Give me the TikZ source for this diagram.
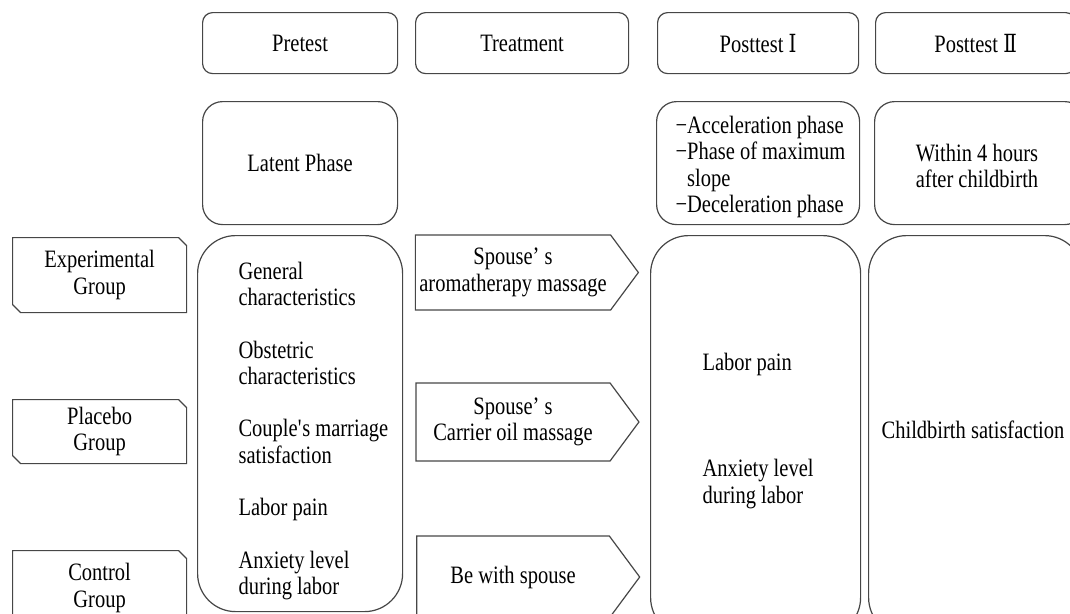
\documentclass[tikz,border=0pt]{standalone}
\usepackage{fontspec}
\usepackage{xcolor}
\setmainfont{Liberation Serif}[FakeStretch=0.82]
\newfontfamily\romanfont{DejaVu Serif}[FakeStretch=0.8]
\usetikzlibrary{positioning}
\usetikzlibrary{shapes.misc}
\usetikzlibrary{shapes.symbols}
\definecolor{boxgray}{RGB}{70,70,70}

\tikzset{
  headbox/.style={draw=boxgray, line width=1.2pt, rounded corners=10pt, minimum height=61pt, anchor=north west, inner sep=0pt, align=center},
  phasebox/.style={draw=boxgray, line width=1.2pt, rounded corners=20pt, minimum height=123pt, anchor=north west, inner sep=0pt, align=center},
  measurebox/.style={draw=boxgray, line width=1.2pt, rounded corners=38pt, minimum height=400pt, anchor=north west, inner sep=0pt},
  groupbox/.style={draw=boxgray, line width=1.2pt, chamfered rectangle, chamfered rectangle corners={north east,south west}, chamfered rectangle xsep=4pt, chamfered rectangle ysep=4pt, minimum width=174pt, anchor=north west, inner sep=0pt, align=center},
  treatbox/.style={draw=boxgray, line width=1.2pt, signal, signal to=east, signal from=nowhere, signal pointer angle=107, minimum width=223pt, inner sep=0pt, align=center}
}

\begin{document}
\begin{tikzpicture}[x=1pt, y=-1pt, font=\fontsize{25}{26.3}\selectfont]
\useasboundingbox (0,0) rectangle (1070,613);
\clip (0,0) rectangle (1070,613);

% column heads
\node[headbox, minimum width=195pt] (pretest_head) at (202,12) {Pretest};
\node[headbox, minimum width=213pt] (treatment_head) at (415,12) {Treatment};
\node[headbox, minimum width=201pt] (post1_head) at (657,12) {Posttest {\romanfont Ⅰ}};
\node[headbox, minimum width=200pt] (post2_head) at (875,12) {Posttest {\romanfont Ⅱ}};

% labor phases
\node[phasebox, minimum width=195pt] (latent) at (202,101) {Latent Phase};
\node[phasebox, minimum width=203pt] (active) at (656,101) {};
\node[align=left, anchor=west] (active_list) at (672,167) {−Acceleration phase\\−Phase of maximum\\\hphantom{−}slope\\−Deceleration phase};
\node[phasebox, minimum width=210pt] (after_birth) at (874,101) {};
\node[align=center] (after_text) at (977,166) {Within 4 hours\\after childbirth};

% groups
\node[groupbox, minimum height=75pt] (exp_group) at (12,237) {Experimental\\Group};
\node[groupbox, minimum height=64pt] (plac_group) at (12,399) {Placebo\\Group};
\node[groupbox, minimum height=75pt] (ctrl_group) at (12,550) {Control\\Group};

% measurements
\node[measurebox, minimum width=205pt, minimum height=376pt] (pre_measure) at (197,235) {};
\node[align=left, anchor=west] (pre_items) at (235,431) {General\\characteristics\\[26.3pt]Obstetric\\characteristics\\[26.3pt]Couple\textquotesingle s marriage\\satisfaction\\[26.3pt]Labor pain\\[26.3pt]Anxiety level\\during labor};
\node[measurebox, minimum width=210pt] (post1_measure) at (650,235) {};
\node[anchor=west] (post1_pain) at (699,364) {Labor pain};
\node[align=left, anchor=west] (post1_anxiety) at (699,484) {Anxiety level\\during labor};
\node[measurebox, minimum width=214pt] (post2_measure) at (868,235) {};
\node (satisfaction) at (973,430) {Childbirth satisfaction};

% treatments
\node[treatbox, minimum height=75pt] (aroma) at (513,272.5) {Spouse’ s\\aromatherapy massage};
\node[treatbox, minimum height=78pt] (carrier) at (513,422) {Spouse’ s\\Carrier oil massage};
\node[treatbox, minimum height=82pt] (with_spouse) at (513,577) {Be with spouse};
\end{tikzpicture}
\end{document}
